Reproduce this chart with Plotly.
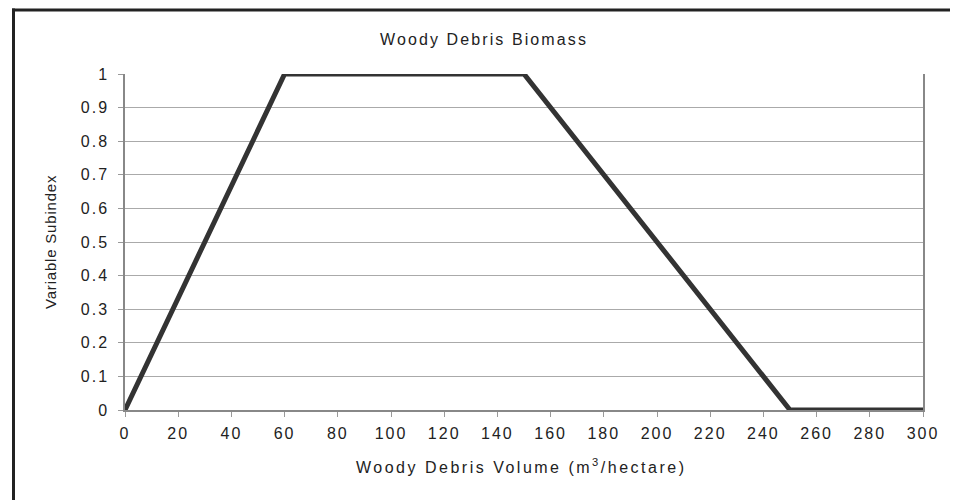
import plotly.graph_objects as go

volume = [0, 60, 150, 250, 300]
subindex = [0, 1, 1, 0, 0]
x_ticks = list(range(0, 301, 20))
x_tick_labels = [str(v) for v in x_ticks]
y_ticks = [0, 0.1, 0.2, 0.3, 0.4, 0.5, 0.6, 0.7, 0.8, 0.9, 1]
y_tick_labels = ["0", "0.1", "0.2", "0.3", "0.4", "0.5", "0.6", "0.7", "0.8", "0.9", "1"]

# page has an 8px body margin; figure is sized to fit the 958x500 window
W, H = 950, 492
L, R, T, B = 117, 35, 66, 90
pw, ph = W - L - R, H - T - B


def px_x(p):
    return (p - L) / pw


def px_y(p):
    return (H - B - p) / ph


def spaced(s, ls=2.0):
    return f'<span style="letter-spacing:{ls}px">{s}</span>'


font = "Liberation Sans, Arial, sans-serif"
ink = "#222222"

fig = go.Figure()
fig.add_trace(go.Scatter(
    x=volume, y=subindex, mode="lines",
    line=dict(color="#333333", width=5),
    cliponaxis=False, showlegend=False, hoverinfo="x+y"))

fig.update_layout(
    width=W, height=H,
    margin=dict(l=L, r=R, t=T, b=B),
    paper_bgcolor="white", plot_bgcolor="white",
    font=dict(family=font, color=ink, size=16),
    xaxis=dict(range=[0, 300], tickvals=x_ticks,
               ticktext=[spaced(t) for t in x_tick_labels],
               ticks="outside", ticklen=5, tickcolor="#999999",
               showgrid=False, zeroline=False,
               showline=True, linecolor="#888888", linewidth=1.5,
               ticklabelstandoff=3, tickfont=dict(size=16, color=ink)),
    yaxis=dict(range=[0, 1], tickvals=y_ticks,
               ticktext=[spaced(t) for t in y_tick_labels],
               ticks="outside", ticklen=5, tickcolor="#999999",
               showgrid=True, gridcolor="#aaaaaa", gridwidth=1,
               zeroline=False, showline=True, mirror=True,
               linecolor="#888888", linewidth=1.5, ticklabelstandoff=6,
               tickfont=dict(size=16, color=ink)),
)

# chart title
fig.add_annotation(text=spaced("Woody Debris Biomass", 2.1), xref="paper", yref="paper",
                   x=px_x(476), y=px_y(32), xanchor="center", yanchor="middle",
                   showarrow=False, font=dict(size=16, color=ink))
# x-axis title
fig.add_annotation(text=spaced("Woody Debris Volume (m<sup>3</sup>/hectare)", 2.5),
                   xref="paper", yref="paper",
                   x=px_x(513), y=px_y(458), xanchor="center", yanchor="middle",
                   showarrow=False, font=dict(size=16, color=ink))
# y-axis title
fig.add_annotation(text=spaced("Variable Subindex", 0.8), xref="paper", yref="paper",
                   x=px_x(42), y=px_y(234), xanchor="center", yanchor="middle",
                   textangle=-90, showarrow=False, font=dict(size=15, color=ink))

# outer frame (left and top edges visible)
fig.add_shape(type="line", xref="paper", yref="paper",
              x0=px_x(5.5), x1=px_x(5.5), y0=px_y(0.5), y1=px_y(520),
              line=dict(color="#222222", width=3))
fig.add_shape(type="line", xref="paper", yref="paper",
              x0=px_x(4), x1=px_x(980), y0=px_y(2), y1=px_y(2),
              line=dict(color="#222222", width=3))

fig.write_html("out.html")
